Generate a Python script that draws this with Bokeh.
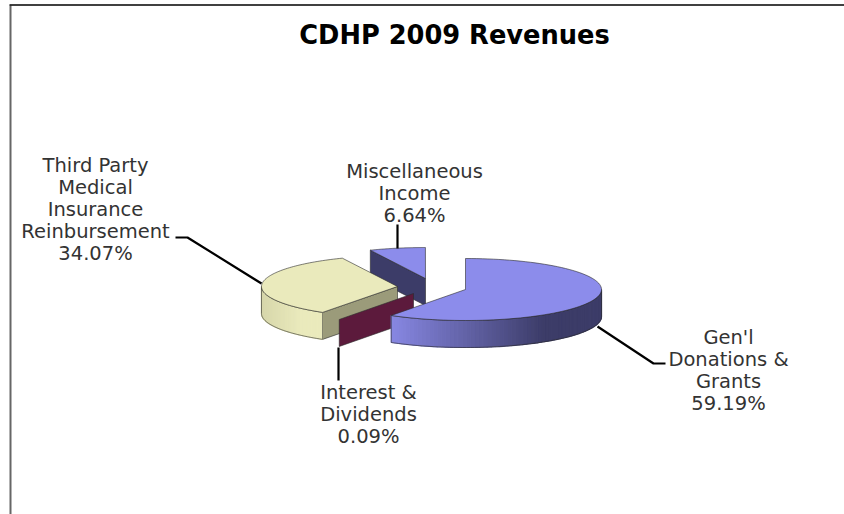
import math
from bokeh.plotting import figure
from bokeh.models import Range1d
from bokeh.core.properties import value
from bokeh.embed import file_html
from bokeh.resources import INLINE

title_text = "CDHP 2009 Revenues"
categories = [["Gen'l", "Donations &", "Grants"],
              ["Interest &", "Dividends"],
              ["Third Party", "Medical", "Insurance", "Reinbursement"],
              ["Miscellaneous", "Income"]]
shares = [59.19, 0.09, 34.07, 6.64]

RX, RY, DEPTH = 136, 31, 27
centres = [(465, 289), (413, 293), (397, 286), (425, 278)]
FONT = "DejaVu Sans"

W, H = 844, 514
p = figure(width=W, height=H, x_range=Range1d(0, W), y_range=Range1d(H, 0),
           output_backend="svg", toolbar_location=None, min_border=0,
           margin=(0, 0, 0, 0))
p.axis.visible = False
p.grid.visible = False
p.outline_line_color = None
p.background_fill_color = "white"

# slice angles, clockwise from twelve o'clock
angles, a = [], 0.0
for s in shares:
    angles.append((a, a + s * 3.6))
    a += s * 3.6

def rim(c, deg):
    r = math.radians(deg)
    return c[0] + RX * math.sin(r), c[1] - RY * math.cos(r)

def arc(c, a0, a1, n=90):
    return [rim(c, a0 + (a1 - a0) * i / n) for i in range(n + 1)]

def mix(c0, c1, t):
    t = max(0, min(1, t))
    return "#%02x%02x%02x" % tuple(round(c0[i] + (c1[i] - c0[i]) * t) for i in range(3))

def poly(pts, fill, line="#2a2a2a", lw=0.6):
    p.patch([q[0] for q in pts], [q[1] for q in pts], fill_color=fill,
            line_color=line if line else fill, line_width=lw if line else 1.2)

def wall(c, a0, a1, colfn):
    pts = arc(c, a0, a1, 70)
    for i in range(len(pts) - 1):
        q0, q1 = pts[i], pts[i + 1]
        poly([q0, q1, (q1[0], q1[1] + DEPTH), (q0[0], q0[1] + DEPTH)], colfn(q0[0]), None)
    outline = pts + [(q[0], q[1] + DEPTH) for q in reversed(pts)] + [pts[0]]
    p.line([q[0] for q in outline], [q[1] for q in outline], line_color="#2a2a2a", line_width=0.6)

def top(c, a0, a1, fill):
    poly([c] + arc(c, a0, a1) + [c], fill)

def radial_wall(c, deg, fill):
    e = rim(c, deg)
    poly([c, e, (e[0], e[1] + DEPTH), (c[0], c[1] + DEPTH)], fill)

BLUE, NAVY, YEL, OLIVE, MAROON = "#8c8ceb", "#3c3c68", "#eaeabc", "#9b9b7a", "#5c1a3c"

# miscellaneous
c = centres[3]
radial_wall(c, angles[3][0], NAVY)
top(c, angles[3][0], angles[3][1], BLUE)

# third party
c = centres[2]
radial_wall(c, angles[2][0], OLIVE)
wall(c, angles[2][0], 270, lambda x: mix((234, 234, 188), (214, 214, 170), (300 - x) / 40))
top(c, angles[2][0], angles[2][1], YEL)

# interest
c = centres[1]
radial_wall(c, angles[1][0], MAROON)

# donations
c = centres[0]
wall(c, 90, angles[0][1], lambda x: mix((134, 134, 224), (60, 60, 104), (x - 395) / 150))
top(c, angles[0][0], angles[0][1], BLUE)

# leaders
for xs, ys in [([597, 653, 665], [326, 363, 363]),
               ([338, 338], [347, 380]),
               ([175, 187, 261], [237, 237, 283]),
               ([397, 397], [224, 248])]:
    p.line(xs, ys, line_color="black", line_width=2.2)

# labels
anchors = [(728, 337), (368, 392), (95, 165), (414, 171)]
STEP = 22
for lines, s, (x, y) in zip(categories, shares, anchors):
    rows = lines + [f"{s:.2f}%"]
    p.text([x] * len(rows), [y + i * STEP for i in range(len(rows))], text=rows,
           text_font=value(FONT), text_font_size="19.5px", text_color="#333333",
           text_align="center", text_baseline="middle")

p.text([454], [34], text=[title_text], text_font=value(FONT), text_font_style="bold",
       text_font_size="25.7px", text_color="black", text_align="center", text_baseline="middle")

# frame
p.line([10, 10], [5, H], line_color="#666666", line_width=2)
p.line([9, W], [4.5, 4.5], line_color="black", line_width=1.5)

open("out.html", "w").write(file_html(p, INLINE))
